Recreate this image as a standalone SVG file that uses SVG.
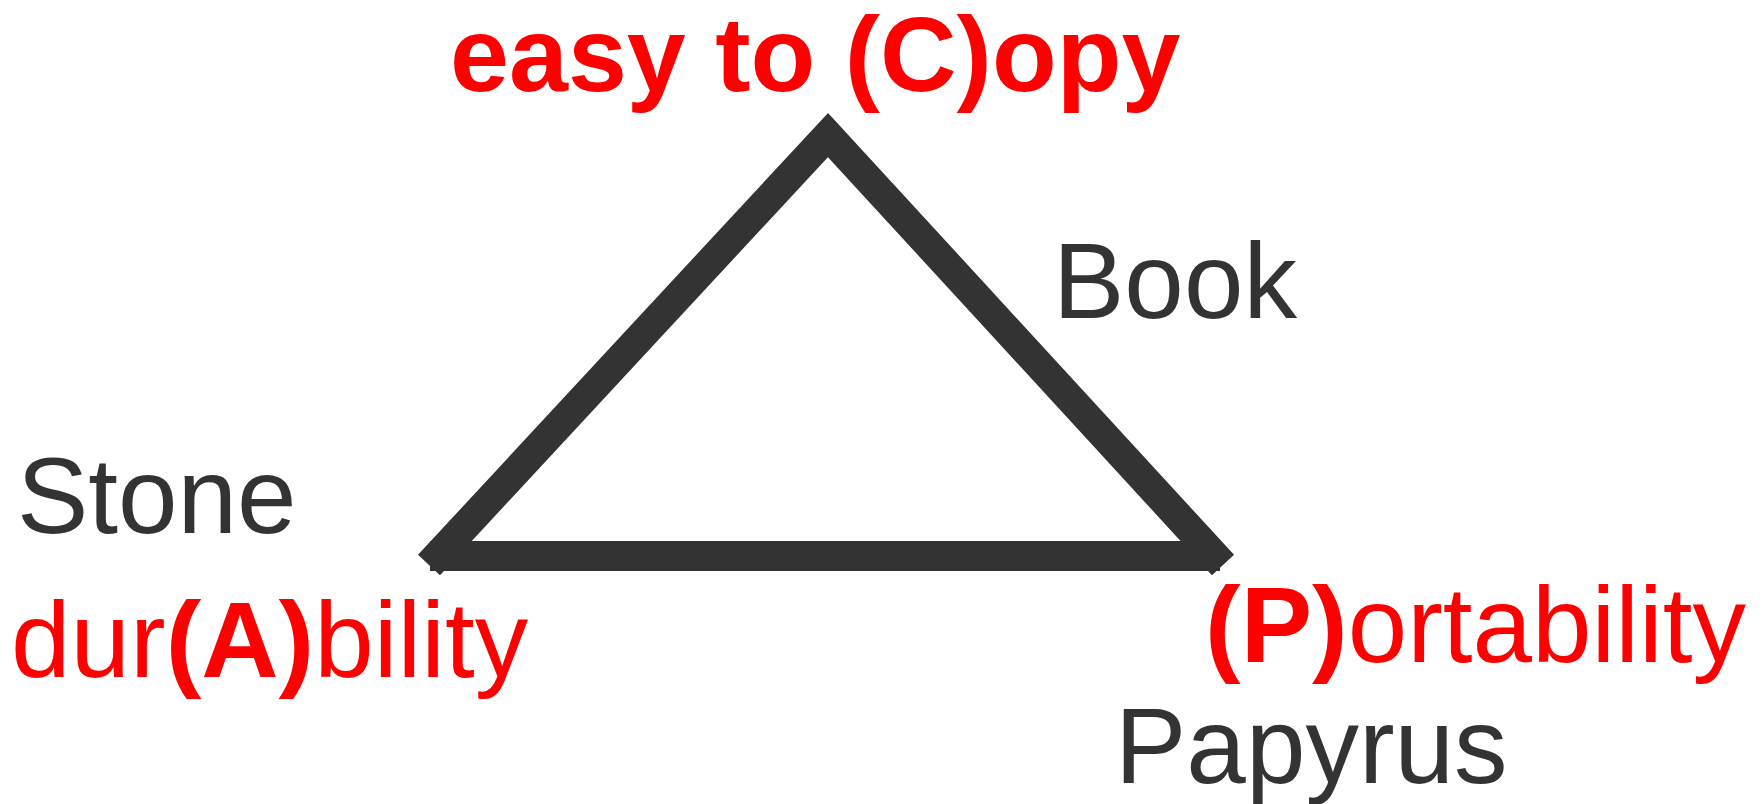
<svg xmlns="http://www.w3.org/2000/svg" width="1763" height="804" viewBox="0 0 1763 804">
  <style>
    .lbl { font-family: "Liberation Sans", Arial, sans-serif; font-size: 107px; fill: #333333; }
    .red { fill: #ff0000; }
    .b { font-weight: bold; }
    .edge { stroke: #333333; stroke-width: 30; fill: none; stroke-linecap: butt; stroke-linejoin: miter; stroke-miterlimit: 10; }
  </style>
  <rect width="1763" height="804" fill="#ffffff"/>

  <!-- triangle edges -->
  <g id="connectors">
    <line class="edge" x1="430" y1="556" x2="1220" y2="556"/>
    <polyline class="edge" points="429,565 828,135 1223,565"/>
  </g>

  <!-- top vertex -->
  <g id="copy">
    <text class="lbl red b" x="450" y="91" font-size="106" style="font-size:106px">easy to (C)opy</text>
  </g>

  <!-- right side label -->
  <g id="book">
    <text class="lbl" x="1053" y="318">Book</text>
  </g>

  <!-- bottom-left vertex -->
  <g id="stone">
    <text class="lbl" x="17" y="533">Stone</text>
    <text class="lbl red" x="11" y="677">dur<tspan class="b">(A)</tspan>bility</text>
  </g>

  <!-- bottom-right vertex -->
  <g id="papyrus">
    <text class="lbl red" x="1205" y="662"><tspan class="b">(P)</tspan>ortability</text>
    <text class="lbl" x="1115" y="783">Papyrus</text>
  </g>
</svg>
